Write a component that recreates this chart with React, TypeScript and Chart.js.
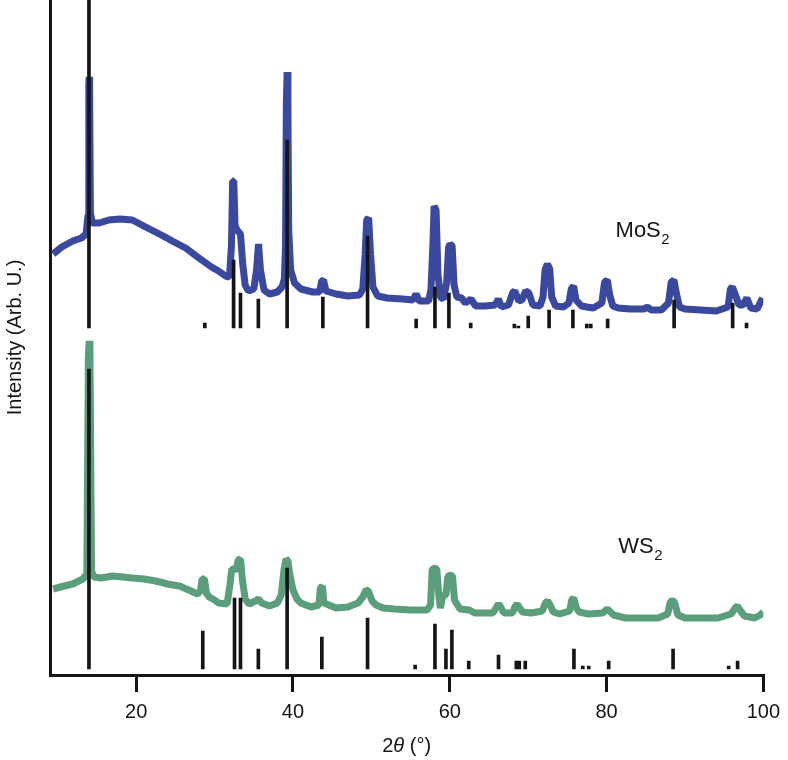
import React, { useEffect, useRef } from "react";
import { Chart, registerables } from "chart.js";

Chart.register(...registerables);

// ---- data (2θ in degrees, intensity in arbitrary units incl. stacking offset) ----
const xTicks = [20, 40, 60, 80, 100];

// [2θ, intensity]
const mos2Pattern: [number, number][] = [
  [9.4, 421], [10.5, 428], [11.9, 434], [13.0, 437], [13.6, 441], [13.85, 460], [13.95, 590], [14.0, 598],
  [14.05, 590], [14.15, 462], [14.4, 452], [15.3, 452], [16.5, 455], [17.9, 456], [19.5, 455], [21.7, 446],
  [23.2, 440], [24.6, 434], [26.3, 427], [28.0, 417], [29.6, 408], [30.5, 404], [31.4, 399], [31.9, 398],
  [32.15, 430], [32.3, 494], [32.45, 494], [32.6, 450], [32.85, 445], [33.3, 441], [33.6, 410], [33.9, 390],
  [34.3, 384], [35.0, 386], [35.35, 405], [35.6, 431], [35.85, 405], [36.3, 385], [37.0, 381], [38.0, 383],
  [38.6, 388], [38.9, 396], [39.05, 430], [39.15, 570], [39.25, 603], [39.35, 570], [39.45, 445], [39.7, 405],
  [40.2, 392], [41.0, 386], [42.5, 383], [43.4, 383], [43.65, 394], [43.9, 395], [44.2, 384], [45.5, 381],
  [47.0, 379], [48.5, 380], [48.9, 386], [49.2, 420], [49.4, 455], [49.65, 457], [49.9, 420], [50.2, 388],
  [50.8, 379], [52.0, 377], [54.0, 376], [55.3, 375], [55.7, 381], [56.1, 374], [57.3, 374], [57.6, 385],
  [57.85, 430], [58.0, 469], [58.25, 465], [58.5, 400], [58.8, 378], [59.2, 376], [59.6, 392], [59.85, 428],
  [60.05, 431], [60.3, 429], [60.55, 390], [60.9, 378], [61.5, 377], [62.0, 372], [62.7, 376], [63.3, 369],
  [64.5, 369], [65.8, 370], [66.2, 376], [66.6, 368], [67.5, 370], [68.0, 382], [68.3, 384], [68.8, 374],
  [69.2, 375], [69.7, 384], [70.1, 382], [70.6, 370], [71.5, 369], [71.9, 378], [72.15, 405], [72.45, 411],
  [72.75, 406], [73.0, 378], [73.5, 369], [74.5, 368], [75.2, 372], [75.5, 386], [75.8, 389], [76.1, 375],
  [76.8, 369], [77.5, 368], [78.3, 367], [79.4, 372], [79.75, 393], [80.1, 395], [80.4, 380], [80.8, 369],
  [81.5, 367], [83.0, 366], [84.8, 366], [85.2, 368], [85.7, 365], [87.0, 365], [87.9, 372], [88.25, 393],
  [88.6, 395], [88.9, 382], [89.3, 368], [90.0, 366], [92.0, 365], [94.0, 364], [95.5, 368], [95.8, 386],
  [96.05, 388], [96.4, 381], [96.9, 370], [97.4, 370], [97.9, 377], [98.4, 367], [99.2, 366], [99.9, 377],
];

const ws2Pattern: [number, number][] = [
  [9.4, 86], [10.8, 89], [11.9, 91], [13.2, 96], [13.7, 101], [13.9, 320], [14.0, 334], [14.1, 320],
  [14.3, 104], [14.6, 98], [15.5, 97], [17.0, 99], [19.5, 97], [21.0, 96], [22.5, 94], [24.0, 91],
  [25.5, 89], [27.0, 84], [27.8, 81], [28.2, 84], [28.4, 96], [28.7, 96], [28.95, 82], [29.3, 78],
  [30.0, 75], [30.5, 72], [31.6, 71], [31.95, 90], [32.2, 106], [32.5, 106], [32.75, 104], [33.0, 115],
  [33.3, 116], [33.55, 95], [33.9, 76], [34.4, 71], [35.2, 74], [35.6, 76], [36.0, 72], [37.0, 69],
  [38.0, 72], [38.5, 80], [38.85, 105], [39.1, 116], [39.35, 114], [39.6, 100], [40.0, 85], [40.5, 76],
  [41.0, 72], [42.3, 68], [43.3, 70], [43.5, 87], [43.75, 89], [43.95, 72], [45.5, 67], [47.0, 68],
  [48.3, 72], [48.9, 78], [49.3, 85], [49.6, 84], [50.1, 74], [50.6, 70], [51.5, 67], [52.9, 66],
  [55.0, 65], [57.1, 65], [57.55, 70], [57.75, 105], [58.0, 107], [58.35, 106], [58.6, 80], [58.8, 67],
  [59.1, 79], [59.5, 80], [59.75, 98], [60.0, 100], [60.35, 99], [60.6, 75], [61.3, 66], [62.5, 65],
  [63.2, 62], [65.5, 62], [65.9, 67], [66.2, 71], [66.5, 68], [66.9, 62], [68.0, 62], [68.3, 68],
  [68.6, 71], [68.9, 67], [69.3, 63], [70.4, 62], [71.8, 64], [72.2, 72], [72.5, 74], [72.8, 70],
  [73.2, 63], [74.0, 61], [75.3, 64], [75.55, 75], [75.8, 77], [76.1, 68], [76.5, 63], [77.7, 61],
  [79.5, 62], [80.1, 66], [80.9, 60], [82.4, 57], [84.5, 57], [86.6, 57], [87.8, 61], [88.1, 72],
  [88.4, 75], [88.7, 72], [89.1, 60], [90.0, 57], [92.0, 57], [94.2, 57], [95.9, 61], [96.4, 67],
  [96.7, 69], [97.1, 64], [97.6, 59], [98.9, 57], [99.6, 60], [100.0, 63],
];

// reference stick patterns
const mos2RefBase = 347;
const mos2RefTheta = [
  13.97, 28.75, 32.42, 33.3, 35.58, 39.25, 43.81, 49.51, 55.71, 58.11, 59.89, 62.67,
  68.24, 68.75, 70.01, 72.67, 75.71, 77.48, 77.99, 80.14, 88.62, 96.09, 97.86,
];
const mos2RefTop = [
  675, 352, 415, 382, 376, 535, 378, 439, 356, 388, 382, 352,
  351, 349, 359, 365, 365, 351, 351, 356, 375, 372, 352,
];

const ws2RefBase = 6;
const ws2RefTheta = [
  13.97, 28.49, 32.54, 33.3, 35.58, 39.25, 43.68, 49.51, 55.58, 58.11, 59.51, 60.27,
  62.42, 66.22, 68.49, 68.87, 69.63, 75.84, 76.97, 77.73, 80.27, 88.49, 95.58, 96.72,
];
const ws2RefTop = [
  306, 44, 77, 77, 26, 107, 38, 57, 10, 51, 26, 45,
  14, 20, 14, 14, 14, 26, 9, 9, 14, 26, 9, 14,
];

const seriesNames = ["MoS", "WS"];
const xTitleParts = ["2", "θ", " (°)"];

// ---- styling ----
const FONT = '"Liberation Sans", Arial, Helvetica, sans-serif';
const INK = "#151515";
const BLUE = "#3A489E";
const GREEN = "#5B9E7B";

const labelPlugin = {
  id: "seriesLabels",
  afterDraw(chart: any) {
    const { ctx, scales, chartArea } = chart;
    const xs = scales.x;
    const ys = scales.y;
    const anchors = [
      { theta: 81.15, level: 438 },
      { theta: 81.5, level: 122 },
    ];
    ctx.save();
    ctx.fillStyle = INK;
    ctx.textBaseline = "alphabetic";
    ctx.textAlign = "left";
    seriesNames.forEach((name, i) => {
      const px = xs.getPixelForValue(anchors[i].theta);
      const py = ys.getPixelForValue(anchors[i].level);
      ctx.font = `22px ${FONT}`;
      ctx.fillText(name, px, py);
      const w = ctx.measureText(name).width;
      ctx.font = `15px ${FONT}`;
      ctx.fillText("2", px + w + 0.5, py + 7);
    });

    // x-axis title with italic theta
    const fonts = [`20px ${FONT}`, `italic 20px ${FONT}`, `20px ${FONT}`];
    const widths = xTitleParts.map((t, i) => {
      ctx.font = fonts[i];
      return ctx.measureText(t).width;
    });
    const total = widths.reduce((a, b) => a + b, 0);
    let cx = (chartArea.left + chartArea.right) / 2 - total / 2;
    const by = xs.bottom - 8;
    xTitleParts.forEach((t, i) => {
      ctx.font = fonts[i];
      ctx.fillText(t, cx, by);
      cx += widths[i];
    });
    ctx.restore();
  },
};

export default function App() {
  const ref = useRef<HTMLCanvasElement>(null);

  useEffect(() => {
    if (!ref.current) return;
    const line = (pattern: [number, number][]) => pattern.map(([t, v]) => ({ x: t, y: v }));
    const sticks = (theta: number[], tops: number[], base: number) =>
      theta.map((t, i) => ({ x: t, y: [base, tops[i]] }));

    const chart = new Chart(ref.current, {
      type: "line",
      data: {
        datasets: [
          {
            type: "bar",
            label: "MoS2 reference",
            data: sticks(mos2RefTheta, mos2RefTop, mos2RefBase) as any,
            backgroundColor: INK,
            borderWidth: 0,
            barThickness: 3,
            grouped: false,
            order: 0,
          } as any,
          {
            type: "bar",
            label: "WS2 reference",
            data: sticks(ws2RefTheta, ws2RefTop, ws2RefBase) as any,
            backgroundColor: INK,
            borderWidth: 0,
            barThickness: 3,
            grouped: false,
            order: 0,
          } as any,
          {
            type: "line",
            label: "MoS2",
            data: line(mos2Pattern),
            borderColor: BLUE,
            borderWidth: 7,
            pointRadius: 0,
            tension: 0,
            fill: false,
            borderJoinStyle: "bevel",
            order: 1,
          },
          {
            type: "line",
            label: "WS2",
            data: line(ws2Pattern),
            borderColor: GREEN,
            borderWidth: 7,
            pointRadius: 0,
            tension: 0,
            fill: false,
            borderJoinStyle: "bevel",
            order: 1,
          },
        ],
      },
      options: {
        responsive: false,
        animation: false,
        devicePixelRatio: 1,
        layout: { padding: { left: 0, right: 19, top: 0, bottom: 0 } },
        plugins: {
          legend: { display: false },
          tooltip: { enabled: false },
          title: { display: false },
        },
        scales: {
          x: {
            type: "linear",
            min: 9,
            max: 100,
            offset: false,
            afterBuildTicks: (scale: any) => {
              scale.ticks = xTicks.map((v) => ({ value: v }));
            },
            afterFit: (scale: any) => {
              scale.height = 85;
            },
            grid: {
              display: true,
              drawOnChartArea: false,
              drawTicks: true,
              tickLength: 17,
              lineWidth: 3,
              color: INK,
              offset: false,
            },
            border: { display: true, color: INK, width: 3 },
            ticks: {
              color: INK,
              font: { family: FONT, size: 20 },
              padding: 8,
              maxRotation: 0,
              autoSkip: false,
            },
            title: { display: false },
          },
          y: {
            type: "linear",
            min: 0,
            max: 675,
            afterFit: (scale: any) => {
              scale.width = 50;
            },
            grid: { display: false, drawTicks: false },
            border: { display: true, color: INK, width: 3 },
            ticks: { display: false },
            title: {
              display: true,
              text: "Intensity (Arb. U.)",
              color: INK,
              font: { family: FONT, size: 20 },
              padding: { top: 3, bottom: 4 },
            },
          },
        },
      },
      plugins: [labelPlugin],
    } as any);

    return () => chart.destroy();
  }, []);

  return (
    <div style={{ position: "absolute", left: 0, top: 0, width: 788, height: 760, background: "#ffffff" }}>
      <canvas ref={ref} width={788} height={760} style={{ display: "block", width: 788, height: 760 }} />
    </div>
  );
}
